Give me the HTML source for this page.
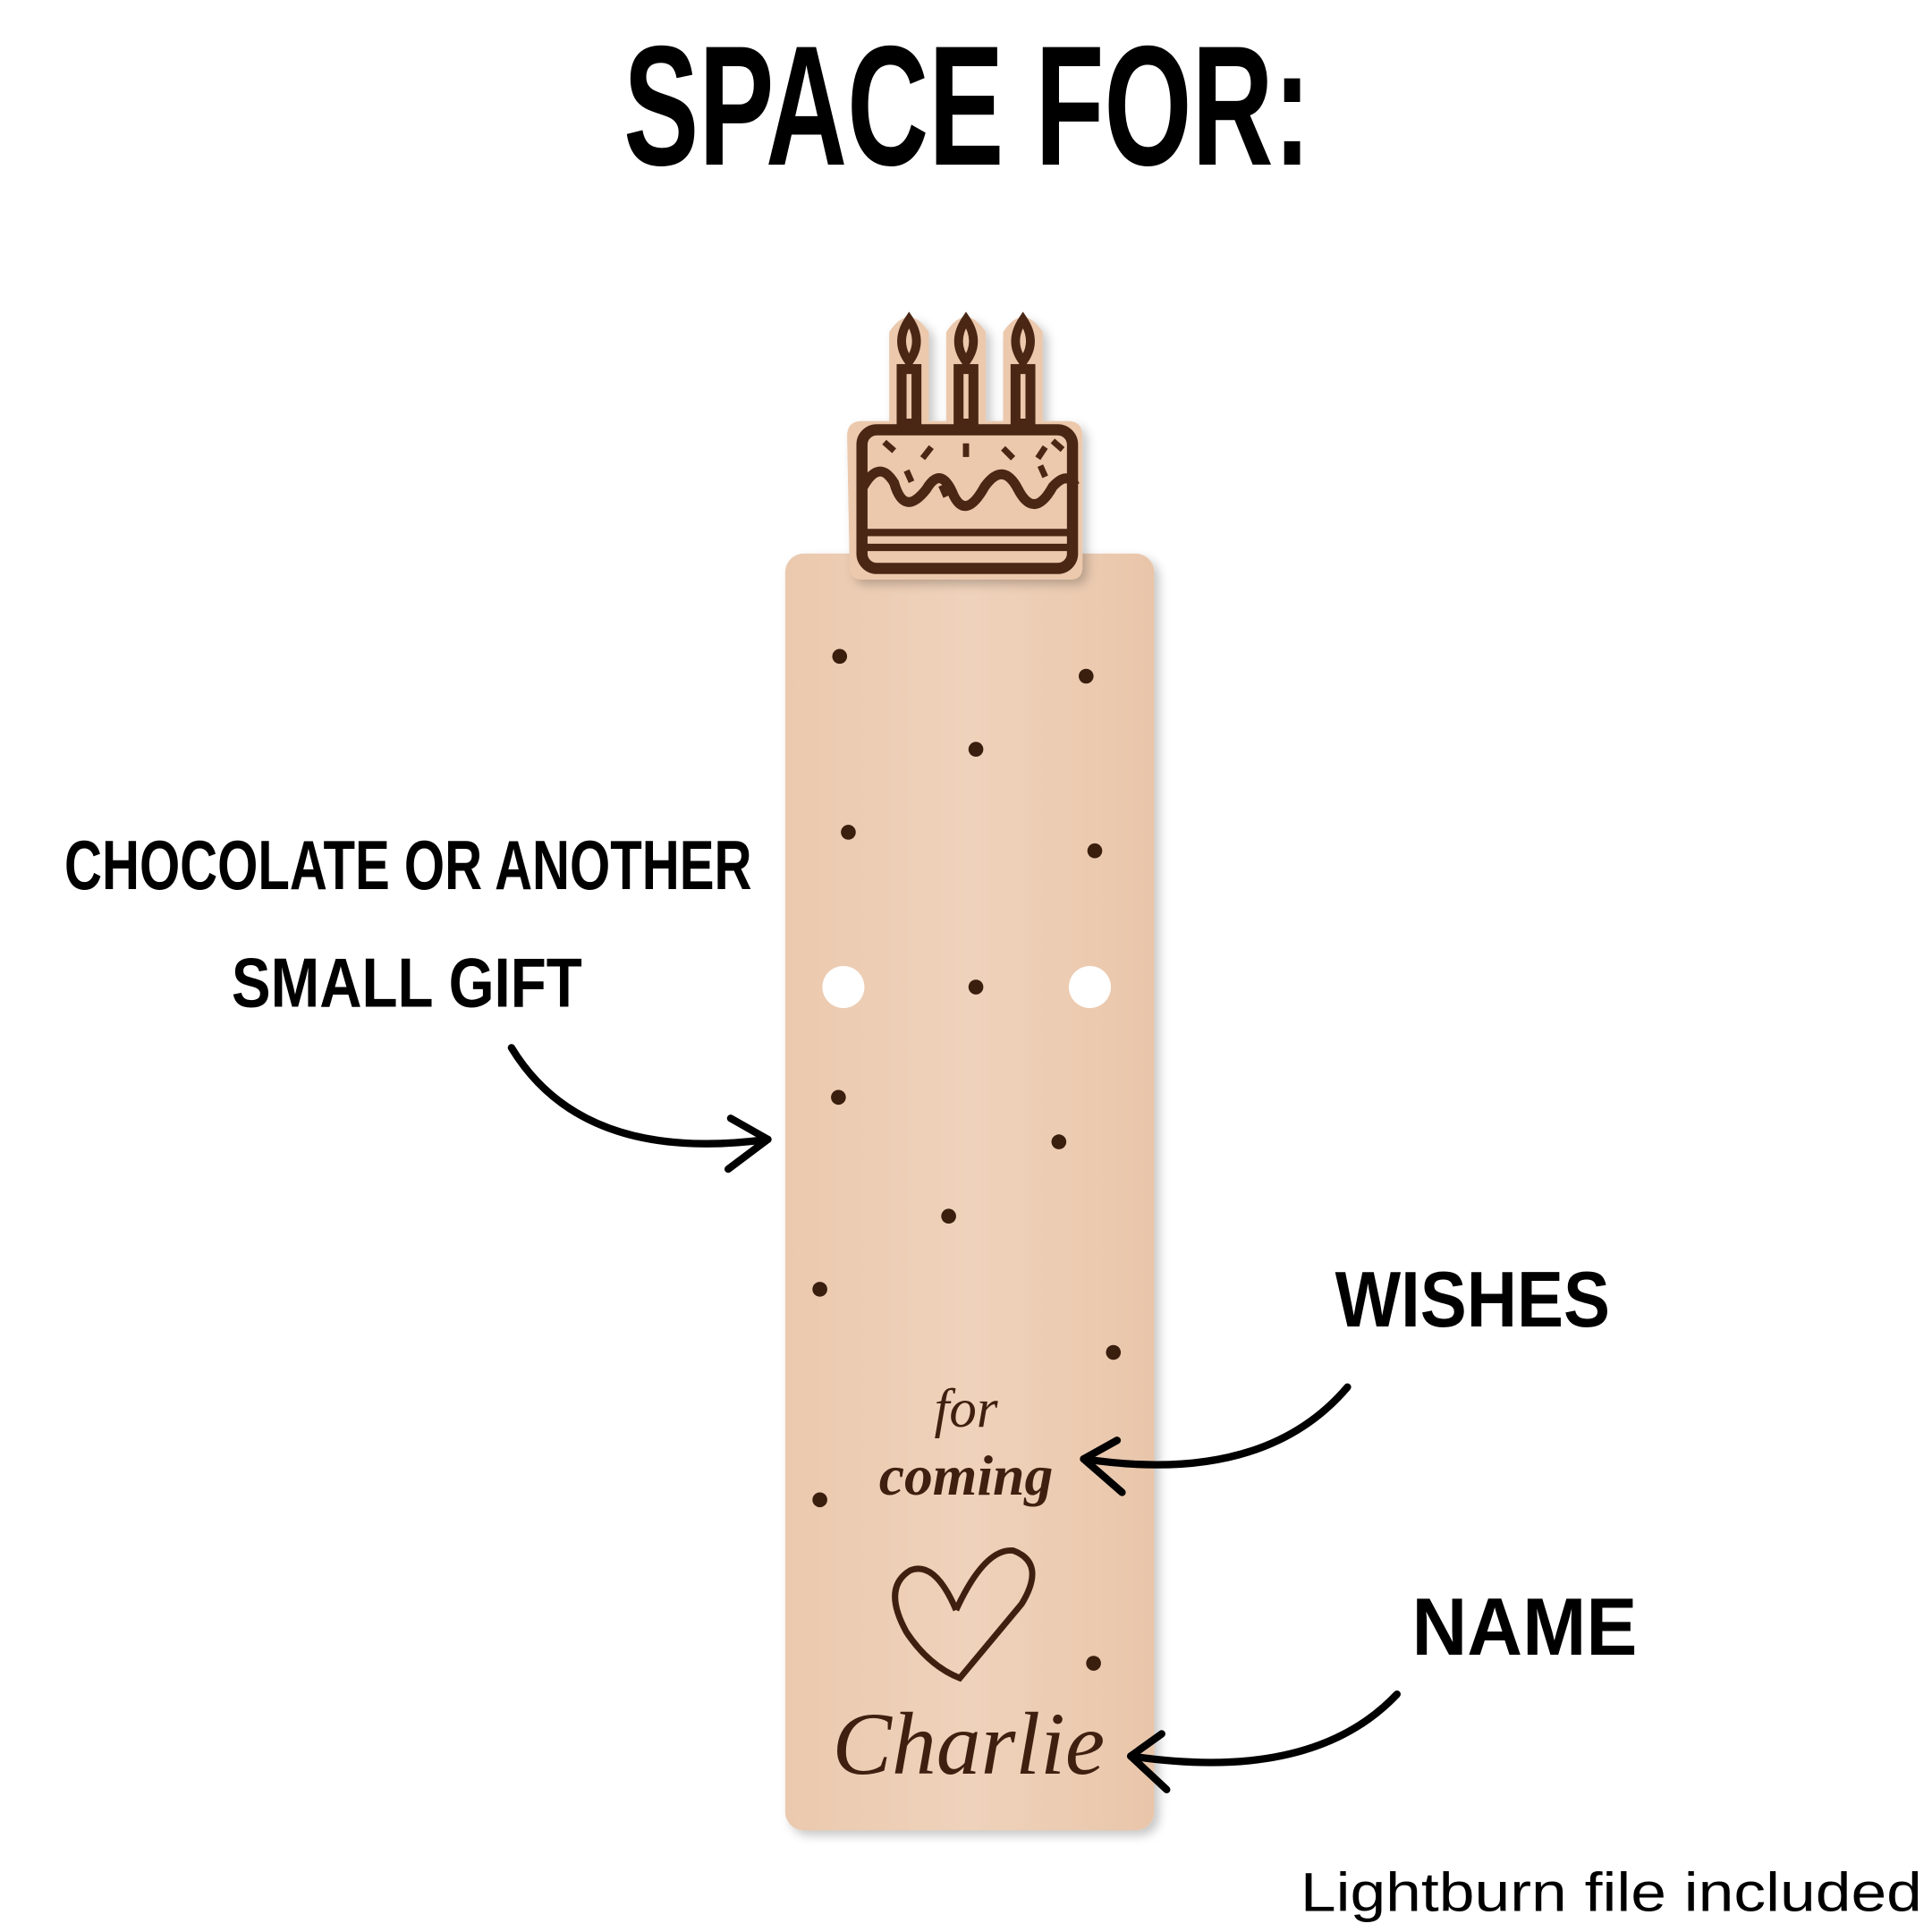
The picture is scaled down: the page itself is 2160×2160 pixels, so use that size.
<!DOCTYPE html>
<html><head><meta charset="utf-8"><style>html,body{margin:0;padding:0;background:#fff}svg{display:block}</style></head>
<body>
<svg width="2160" height="2160" viewBox="0 0 1560 1560" xmlns="http://www.w3.org/2000/svg">
<defs>
<linearGradient id="wood" x1="0" y1="0" x2="1" y2="0">
<stop offset="0" stop-color="#ebc9ae"/><stop offset="0.5" stop-color="#efd2bb"/><stop offset="1" stop-color="#e9c6aa"/>
</linearGradient>
<filter id="sh" x="-10%" y="-10%" width="130%" height="130%"><feDropShadow dx="4" dy="4" stdDeviation="4" flood-color="#000" flood-opacity="0.22"/></filter>
</defs>
<rect width="1560" height="1560" fill="#fff"/>
<text x="781" y="133" text-anchor="middle" font-family="Liberation Sans Narrow, Liberation Sans, sans-serif" font-weight="bold" font-size="138" fill="#000" textLength="555" lengthAdjust="spacingAndGlyphs">SPACE FOR:</text>
<rect x="634" y="447" width="298" height="1031" rx="15" fill="url(#wood)" filter="url(#sh)"/>
<g filter="url(#sh)">
<path d="M684 352 Q684 340 696 340 L718 340 L718 268 Q734 244 750 268 L750 340 L764 340 L764 268 Q780 244 796 268 L796 340 L810 340 L810 268 Q826 244 842 268 L842 340 L862 340 Q874 340 874 352 L874 458 Q874 468 864 468 L696 468 Q686 468 686 458 Z" fill="#ecc9ad"/>
</g>
<g fill="none" stroke="#4a2714" stroke-width="9">
<rect x="696" y="347" width="170" height="112" rx="12"/>
<rect x="728" y="298" width="12" height="44" stroke-width="8"/><rect x="774" y="298" width="12" height="44" stroke-width="8"/><rect x="820" y="298" width="12" height="44" stroke-width="8"/>
<path stroke-width="7" d="M734 258 Q722 276 734 292 Q746 276 734 258Z M780 258 Q768 276 780 292 Q792 276 780 258Z M826 258 Q814 276 826 292 Q838 276 826 258Z"/>
<path stroke-width="8" d="M697 393 Q710 370 722 390 Q730 418 748 395 Q760 375 770 400 Q780 420 795 393 Q810 372 822 395 Q835 420 850 393 Q862 380 868 392"/>
<line x1="697" y1="430" x2="867" y2="430" stroke-width="6"/><line x1="697" y1="442" x2="867" y2="442" stroke-width="6"/>
</g>
<g stroke="#4a2714" stroke-width="5">
<line x1="714" y1="357" x2="722" y2="364"/><line x1="745" y1="370" x2="752" y2="361"/><line x1="780" y1="358" x2="780" y2="369"/><line x1="810" y1="362" x2="818" y2="370"/><line x1="838" y1="370" x2="844" y2="361"/><line x1="850" y1="356" x2="858" y2="363"/>
<line x1="732" y1="380" x2="736" y2="389"/><line x1="760" y1="392" x2="764" y2="401"/><line x1="840" y1="376" x2="844" y2="385"/>
</g>
<g fill="#3a1e0e">
<circle cx="678" cy="530" r="6"/><circle cx="877" cy="546" r="6"/><circle cx="788" cy="605" r="6"/><circle cx="685" cy="672" r="6"/><circle cx="884" cy="687" r="6"/><circle cx="788" cy="797" r="6"/><circle cx="677" cy="886" r="6"/><circle cx="855" cy="922" r="6"/><circle cx="766" cy="982" r="6"/><circle cx="662" cy="1041" r="6"/><circle cx="899" cy="1092" r="6"/><circle cx="662" cy="1211" r="6"/><circle cx="883" cy="1343" r="6"/>
</g>
<circle cx="681" cy="797" r="17" fill="#fff"/><circle cx="880" cy="797" r="17" fill="#fff"/>
<g font-family="Liberation Serif, serif" font-style="italic" fill="#3f2010" text-anchor="middle">
<text x="780" y="1152" font-size="44">for</text>
<text x="780" y="1207" font-size="46" font-weight="bold">coming</text>
<text x="782" y="1432" font-size="72">Charlie</text>
</g>
<path d="M772 1300 Q755 1260 735 1268 Q712 1282 732 1318 Q750 1345 775 1355 Q800 1325 825 1295 Q845 1262 818 1252 Q795 1250 772 1300" fill="none" stroke="#3f2010" stroke-width="5"/>
<g font-family="Liberation Sans Narrow, Liberation Sans, sans-serif" font-weight="bold" fill="#000">
<text x="52" y="718" font-size="56" textLength="555" lengthAdjust="spacingAndGlyphs">CHOCOLATE OR ANOTHER</text>
<text x="187" y="813" font-size="56" textLength="283" lengthAdjust="spacingAndGlyphs">SMALL GIFT</text>
<text x="1078" y="1071" font-size="64" textLength="222" lengthAdjust="spacingAndGlyphs">WISHES</text>
<text x="1140" y="1336" font-size="66" textLength="182" lengthAdjust="spacingAndGlyphs">NAME</text>
</g>
<text x="1050" y="1543" font-family="Liberation Sans, sans-serif" font-size="44" fill="#000" textLength="502" lengthAdjust="spacingAndGlyphs">Lightburn file included</text>
<g fill="none" stroke="#000" stroke-width="6" stroke-linecap="round" stroke-linejoin="round">
<path d="M413 846 Q470 940 620 920"/><path d="M590 903 L620 920 L588 944"/>
<path d="M1088 1120 Q1020 1200 875 1178"/><path d="M902 1163 L875 1178 L906 1205"/>
<path d="M1128 1368 Q1060 1440 913 1418"/><path d="M938 1400 L913 1418 L942 1445"/>
</g>
</svg>
</body></html>
